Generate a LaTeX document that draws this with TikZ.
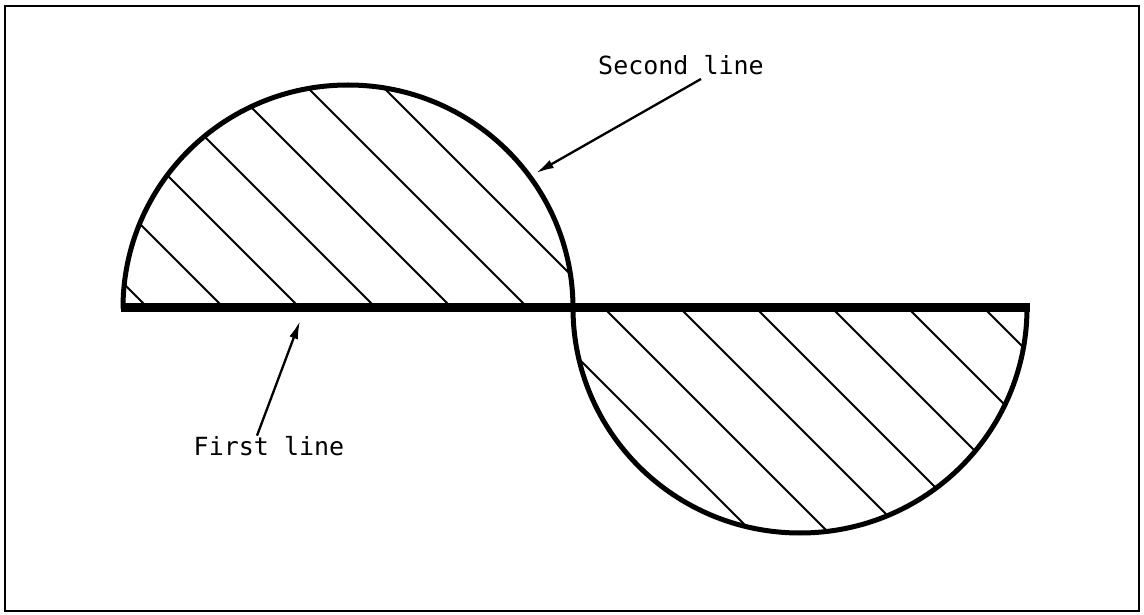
\documentclass[tikz,border=0pt]{standalone}
\usepackage{fontspec}
\setmonofont{DejaVu Sans Mono}
\usetikzlibrary{arrows.meta, calc}

\begin{document}
\begin{tikzpicture}[x=1pt, y=1pt,
  outline/.style={line width=5pt, line cap=round},
  hatch/.style={line width=2.1pt},
  callout/.style={font=\ttfamily\fontsize{25}{30}\selectfont, inner sep=0pt},
  pointer/.style={line width=2.3pt, -{Latex[length=18pt, width=9pt]}}]
\useasboundingbox (0,0) rectangle (1144,614);
\draw[line width=2.5pt] (5,3) rectangle (1139,608);
% hatching inside both halves
\begin{scope}
  \clip (123,306) arc[start angle=180, end angle=0, x radius=225, y radius=223]
        arc[start angle=180, end angle=360, x radius=227, y radius=225] -- cycle;
  \foreach \k in {0,...,11}
    \draw[hatch] ({148+76*\k-250},556) -- ({148+76*\k+250},56);
\end{scope}
% second line and first line
\draw[outline] (123,306) arc[start angle=180, end angle=0, x radius=225, y radius=223]
               arc[start angle=180, end angle=360, x radius=227, y radius=225];
\draw[line width=9pt] (121,306) -- (1030,306);
% labels
\coordinate (secondtip) at (536,441);
\coordinate (firsttip) at (300,293);
\node[callout, anchor=base] (second) at (681,539) {Second line};
\node[callout, anchor=base] (first) at (269,159) {First line};
\draw[pointer] ([xshift=20pt, yshift=-4pt]second.base) -- (secondtip);
\draw[pointer] ([xshift=-12pt]first.north) -- (firsttip);
\end{tikzpicture}
\end{document}
